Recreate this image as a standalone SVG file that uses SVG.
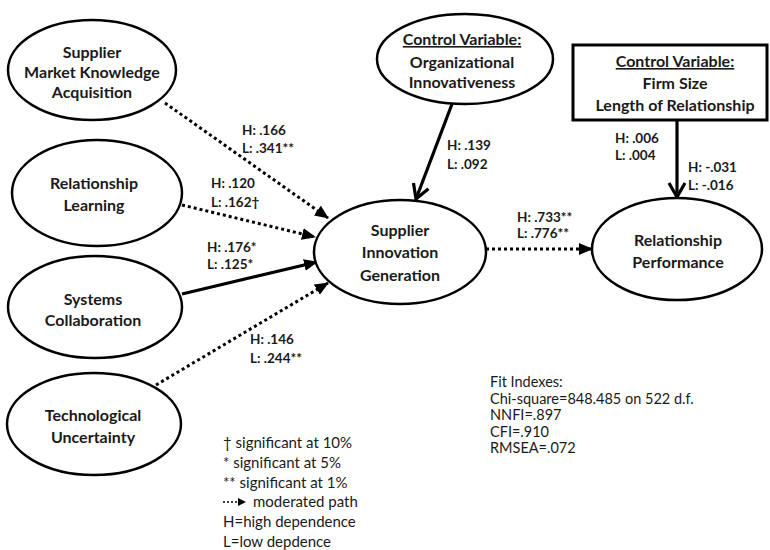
<svg xmlns="http://www.w3.org/2000/svg" width="770" height="550" viewBox="0 0 770 550">
<defs>
<style>
.node{fill:#fff;stroke:#000;stroke-width:2.5}
.nt{font-family:Lato,"Liberation Sans",sans-serif;font-weight:bold;font-size:16px;fill:#1a1a1a;text-anchor:middle}
.lb{font-family:Lato,"Liberation Sans",sans-serif;font-weight:bold;font-size:13.5px;fill:#1a1a1a}
.lg{font-family:Lato,"Liberation Sans",sans-serif;font-size:15px;fill:#1a1a1a}
.fit{font-family:Lato,"Liberation Sans",sans-serif;font-size:14.5px;fill:#1a1a1a}
.dot{fill:none;stroke:#000;stroke-width:3;stroke-dasharray:3 3;marker-end:url(#tri)}
.solid{fill:none;stroke:#000;stroke-width:3.2}
</style>
<marker id="tri" markerUnits="userSpaceOnUse" markerWidth="14" markerHeight="12" viewBox="0 0 14 12" refX="13" refY="6" orient="auto">
<path d="M0,0 L14,6 L0,12 Z" fill="#000"/>
</marker>
<marker id="vee" markerUnits="userSpaceOnUse" markerWidth="20" markerHeight="20" viewBox="0 0 20 20" refX="18" refY="10" orient="auto">
<path d="M4,2 L18,10 L4,18" fill="none" stroke="#000" stroke-width="3.2"/>
</marker>
</defs>
<rect width="770" height="550" fill="#fff"/>

<g id="connectors">
<line class="dot" x1="165" y1="103" x2="328" y2="218"/>
<line class="dot" x1="182" y1="205" x2="315" y2="237"/>
<line class="solid" x1="182" y1="294" x2="317" y2="262" marker-end="url(#tri)"/>
<line class="dot" x1="156" y1="385" x2="328" y2="283"/>
<line class="solid" x1="452" y1="104" x2="416" y2="199" marker-end="url(#vee)"/>
<line class="dot" x1="486" y1="249" x2="592" y2="249"/>
<line class="solid" x1="677" y1="120" x2="677" y2="197" marker-end="url(#vee)"/>
</g>

<g id="smka">
<ellipse class="node" cx="92" cy="70" rx="84" ry="50"/>
<text class="nt" x="92" y="58">Supplier</text>
<text class="nt" x="92" y="78">Market Knowledge</text>
<text class="nt" x="92" y="98">Acquisition</text>
</g>
<g id="rl">
<ellipse class="node" cx="97" cy="193" rx="85" ry="53"/>
<text class="nt" x="94" y="189">Relationship</text>
<text class="nt" x="94" y="211">Learning</text>
</g>
<g id="sc">
<ellipse class="node" cx="95" cy="307" rx="87" ry="51"/>
<text class="nt" x="93" y="305">Systems</text>
<text class="nt" x="93" y="326">Collaboration</text>
</g>
<g id="tu">
<ellipse class="node" cx="94" cy="424" rx="87" ry="51"/>
<text class="nt" x="93" y="421">Technological</text>
<text class="nt" x="93" y="443">Uncertainty</text>
</g>
<g id="oi">
<ellipse class="node" cx="465" cy="59" rx="88" ry="45"/>
<text class="nt" x="462" y="45" text-decoration="underline">Control Variable:</text>
<text class="nt" x="462" y="68">Organizational</text>
<text class="nt" x="462" y="88">Innovativeness</text>
</g>
<g id="sig">
<ellipse class="node" cx="400" cy="252" rx="86" ry="52"/>
<text class="nt" x="400" y="236">Supplier</text>
<text class="nt" x="400" y="258">Innovation</text>
<text class="nt" x="400" y="281">Generation</text>
</g>
<g id="fs">
<rect x="573" y="45" width="194" height="75" fill="#fff" stroke="#000" stroke-width="3"/>
<text class="nt" x="675" y="67" text-decoration="underline">Control Variable:</text>
<text class="nt" x="675" y="89">Firm Size</text>
<text class="nt" x="675" y="111">Length of Relationship</text>
</g>
<g id="rp">
<ellipse class="node" cx="677" cy="249" rx="85" ry="51"/>
<text class="nt" x="678" y="246">Relationship</text>
<text class="nt" x="678" y="268">Performance</text>
</g>

<g id="labels">
<text class="lb" x="242" y="135">H: .166</text>
<text class="lb" x="242" y="153">L: .341**</text>
<text class="lb" x="211" y="188">H: .120</text>
<text class="lb" x="211" y="207">L: .162†</text>
<text class="lb" x="207" y="252">H: .176*</text>
<text class="lb" x="207" y="269">L: .125*</text>
<text class="lb" x="250" y="344">H: .146</text>
<text class="lb" x="250" y="363">L: .244**</text>
<text class="lb" x="447" y="150">H: .139</text>
<text class="lb" x="447" y="169">L: .092</text>
<text class="lb" x="517" y="222">H: .733**</text>
<text class="lb" x="517" y="238">L: .776**</text>
<text class="lb" x="615" y="143">H: .006</text>
<text class="lb" x="615" y="160">L: .004</text>
<text class="lb" x="688" y="172">H: -.031</text>
<text class="lb" x="688" y="190">L: -.016</text>
</g>

<g id="legend">
<text class="lg" x="223" y="448">† significant at 10%</text>
<text class="lg" x="223" y="468">* significant at 5%</text>
<text class="lg" x="223" y="488">** significant at 1%</text>
<line x1="223" y1="502" x2="238" y2="502" stroke="#000" stroke-width="1.5" stroke-dasharray="2 2"/>
<path d="M238,498 L246,502 L238,506 Z" fill="#000"/>
<text class="lg" x="253" y="507">moderated path</text>
<text class="lg" x="223" y="527">H=high dependence</text>
<text class="lg" x="223" y="547">L=low depdence</text>
</g>

<g id="fit">
<text class="fit" x="490" y="387">Fit Indexes:</text>
<text class="fit" x="490" y="404">Chi-square=848.485 on 522 d.f.</text>
<text class="fit" x="490" y="420">NNFI=.897</text>
<text class="fit" x="490" y="437">CFI=.910</text>
<text class="fit" x="490" y="453">RMSEA=.072</text>
</g>
</svg>
